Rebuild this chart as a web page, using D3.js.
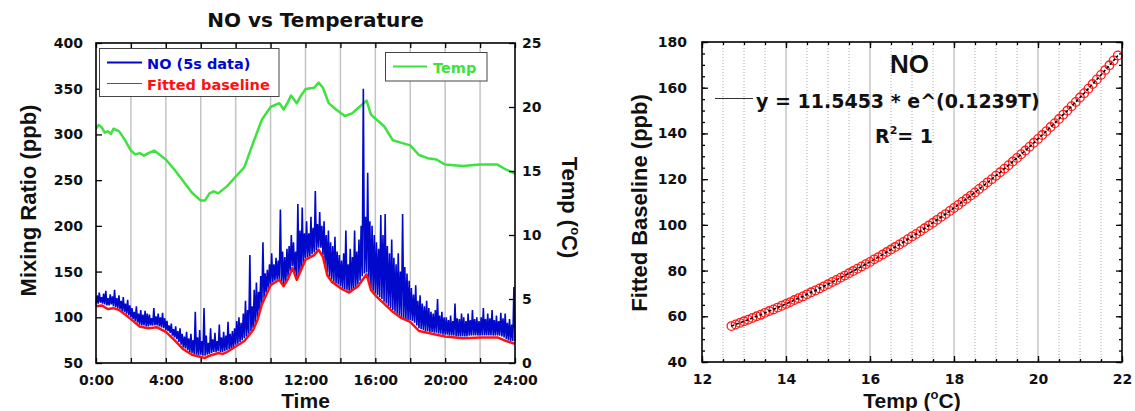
<!DOCTYPE html>
<html>
<head>
<meta charset="utf-8">
<script src="https://cdn.jsdelivr.net/npm/d3@7"></script>
<style>
  body { margin: 0; background: #fff; }
  .tick text { font-family: "DejaVu Sans", sans-serif; font-weight: bold; font-size: 14px; fill: #111; }
  .ttl { font-family: "Liberation Sans", Arial, sans-serif; font-weight: bold; fill: #111; }
  .wide { font-family: "DejaVu Sans", sans-serif; font-weight: bold; }
</style>
</head>
<body>
<div id="chart"></div>
<script>
// ---- left panel: time series (hours of day) ----
const tempTime = [0, 0.15, 0.33, 0.5, 0.67, 0.85, 1, 1.33, 1.67, 2,
  2.25, 2.5, 2.75, 3, 3.33, 3.67, 4, 4.5, 5, 5.5,
  6, 6.25, 6.5, 6.75, 7, 7.5, 8, 8.5, 9, 9.5,
  10, 10.5, 10.75, 11, 11.17, 11.5, 11.75, 12, 12.5, 12.75,
  13, 13.33, 13.75, 14.25, 14.67, 15, 15.5, 15.75, 16, 16.5,
  17, 17.5, 18, 18.5, 19, 19.5, 20, 21, 22, 23,
  23.5, 24];
const tempC = [18.3, 18.6, 18.4, 18.0, 18.1, 17.9, 18.3, 18.1, 17.4, 16.6,
  16.3, 16.4, 16.2, 16.4, 16.6, 16.25, 15.9, 15.1, 14.2, 13.3,
  12.7, 12.7, 13.25, 13.4, 13.25, 13.8, 14.55, 15.3, 17.2, 19.0,
  20.0, 20.3, 19.8, 20.4, 20.9, 20.3, 20.9, 21.4, 21.5, 21.9,
  21.5, 20.3, 19.8, 19.3, 19.5, 19.9, 20.5, 19.4, 19.1, 18.5,
  17.4, 17.2, 17.0, 16.25, 16.0, 15.9, 15.5, 15.4, 15.5, 15.5,
  15.1, 14.8];

const baseTime = [0, 0.33, 0.67, 1, 1.33, 1.67, 2, 2.5, 3, 3.5,
  4, 4.5, 5, 5.5, 6, 6.25, 6.5, 7, 7.25, 7.5,
  8, 8.5, 9, 9.25, 9.5, 10, 10.5, 10.75, 11, 11.25,
  11.5, 11.75, 12, 12.5, 12.75, 13, 13.25, 13.5, 14, 14.5,
  15, 15.5, 15.75, 16, 16.5, 17, 17.5, 18, 18.5, 19,
  19.5, 20, 21, 22, 23, 23.5, 24];
const baseline = [112, 113, 109, 110, 108, 103, 98, 90, 88, 89,
  84, 75, 65, 59, 56.5, 55.5, 58, 61, 60, 62,
  68, 74, 86, 97, 114, 135, 141, 134, 142, 154,
  141, 152, 163, 168, 174, 166, 146, 139, 132, 127,
  134, 147, 130, 124, 115, 106, 99, 95, 85, 83,
  81, 79, 77, 78, 78, 74, 71];

// NO 5 s data, one value every 3.75 min (16 per hour row)
const noStep = 1 / 16;
const noValues = [
  114, 124, 115, 127, 116, 122, 115, 126, 114, 129, 113, 121, 113, 125, 114, 123,
  112, 130, 111, 121, 110, 124, 109, 118, 107, 122, 106, 115, 104, 119, 102, 113,
  100, 110, 98, 106, 96, 112, 94, 104, 92, 108, 91, 103, 91, 107, 90, 104,
  90, 103, 91, 99, 91, 110, 91, 101, 91, 104, 90, 100, 89, 105, 88, 99,
  86, 96, 85, 91, 83, 93, 80, 87, 78, 90, 76, 85, 73, 88, 70, 82,
  67, 79, 66, 84, 64, 77, 62, 82, 61, 75, 60, 106, 59, 78, 58, 86,
  59, 74, 58, 110, 58, 80, 59, 72, 60, 88, 61, 76, 62, 83, 62, 74,
  63, 92, 62, 78, 62, 84, 63, 80, 64, 95, 65, 82, 66, 85, 67, 88,
  70, 96, 71, 100, 73, 94, 75, 104, 77, 118, 79, 108, 82, 168, 85, 112,
  88, 130, 93, 138, 99, 128, 107, 145, 115, 182, 121, 148, 127, 152, 131, 158,
  136, 170, 138, 158, 140, 165, 141, 162, 142, 218, 138, 172, 136, 166, 139, 175,
  144, 178, 150, 190, 156, 182, 148, 172, 143, 224, 146, 195, 151, 220, 157, 192,
  165, 205, 166, 192, 167, 210, 169, 198, 171, 238, 173, 202, 176, 215, 176, 200,
  168, 205, 158, 190, 149, 195, 144, 182, 141, 178, 139, 188, 137, 172, 136, 168,
  134, 162, 132, 170, 131, 195, 130, 158, 129, 175, 129, 166, 130, 195, 131, 172,
  136, 185, 140, 200, 145, 350, 148, 210, 149, 258, 140, 205, 132, 200, 129, 190,
  126, 182, 124, 175, 122, 212, 120, 190, 117, 213, 115, 178, 112, 170, 110, 185,
  108, 165, 106, 158, 104, 170, 102, 150, 100, 213, 99, 155, 98, 148, 97, 140,
  97, 132, 96, 125, 94, 135, 91, 118, 88, 124, 87, 115, 86, 112, 85, 118,
  85, 110, 84, 106, 84, 104, 83, 108, 83, 120, 82, 102, 82, 106, 81, 100,
  81, 100, 81, 97, 80, 102, 80, 96, 80, 115, 79, 99, 79, 98, 79, 104,
  79, 100, 79, 96, 79, 104, 80, 97, 80, 108, 80, 98, 80, 100, 80, 96,
  80, 100, 80, 110, 80, 98, 80, 104, 80, 99, 80, 108, 80, 97, 80, 102,
  80, 96, 80, 105, 79, 99, 78, 104, 76, 94, 75, 98, 74, 92, 74, 133,
  74];

const hourTicks = d3.range(0, 25, 2);
const ppbTicks = d3.range(50, 401, 50);
const tempTicks = d3.range(0, 26, 5);

// ---- right panel: fitted baseline vs temperature ----
const fitTemp = [12.7, 12.8, 12.9, 13.0, 13.1, 13.2, 13.3, 13.4, 13.5, 13.6,
  13.7, 13.8, 13.9, 14.0, 14.1, 14.2, 14.3, 14.4, 14.5, 14.6,
  14.7, 14.8, 14.9, 15.0, 15.1, 15.2, 15.3, 15.4, 15.5, 15.6,
  15.7, 15.8, 15.9, 16.0, 16.1, 16.2, 16.3, 16.4, 16.5, 16.6,
  16.7, 16.8, 16.9, 17.0, 17.1, 17.2, 17.3, 17.4, 17.5, 17.6,
  17.7, 17.8, 17.9, 18.0, 18.1, 18.2, 18.3, 18.4, 18.5, 18.6,
  18.7, 18.8, 18.9, 19.0, 19.1, 19.2, 19.3, 19.4, 19.5, 19.6,
  19.7, 19.8, 19.9, 20.0, 20.1, 20.2, 20.3, 20.4, 20.5, 20.6,
  20.7, 20.8, 20.9, 21.0, 21.1, 21.2, 21.3, 21.4, 21.5, 21.6,
  21.7, 21.8, 21.9];
const fitBaseline = [55.7, 56.4, 57.1, 57.8, 58.5, 59.3, 60.0, 60.7, 61.5, 62.3,
  63.0, 63.8, 64.6, 65.4, 66.2, 67.1, 67.9, 68.7, 69.6, 70.5,
  71.3, 72.2, 73.1, 74.0, 75.0, 75.9, 76.9, 77.8, 78.8, 79.8,
  80.8, 81.8, 82.8, 83.8, 84.9, 85.9, 87.0, 88.1, 89.2, 90.3,
  91.4, 92.5, 93.7, 94.9, 96.0, 97.2, 98.5, 99.7, 100.9, 102.2,
  103.5, 104.7, 106.1, 107.4, 108.7, 110.1, 111.4, 112.8, 114.2, 115.7,
  117.1, 118.6, 120.0, 121.5, 123.0, 124.6, 126.1, 127.7, 129.3, 130.9,
  132.5, 134.2, 135.9, 137.6, 139.3, 141.0, 142.8, 144.5, 146.3, 148.2,
  150.0, 151.9, 153.8, 155.7, 157.6, 159.6, 161.6, 163.6, 165.6, 167.7,
  169.8, 171.9, 174.1];

const fitTicksX = d3.range(12, 23, 2);
const fitMinorX = d3.range(12, 22.01, 0.5);
const fitTicksY = d3.range(40, 181, 20);
const fitMinorY = d3.range(40, 180.1, 5);

const svg = d3.select("#chart").append("svg")
  .attr("width", 1135)
  .attr("height", 411)
  .style("display", "block");

svg.append("rect").attr("width", 1135).attr("height", 411).attr("fill", "#fff");

function styleAxis(g) {
  g.select(".domain").remove();
  g.selectAll(".tick line").attr("stroke", "#000").attr("stroke-width", 1.3);
}

// ================= left panel =================
const L = { left: 96, right: 515, top: 43, bottom: 363 };

const x = d3.scaleLinear().domain([0, 24]).range([L.left, L.right]);
const yL = d3.scaleLinear().domain([50, 400]).range([L.bottom, L.top]);
const yR = d3.scaleLinear().domain([0, 25]).range([L.bottom, L.top]);

// vertical grid
svg.append("g")
  .selectAll("line")
  .data(hourTicks.slice(1, -1))
  .enter().append("line")
  .attr("x1", d => x(d)).attr("x2", d => x(d))
  .attr("y1", L.top).attr("y2", L.bottom)
  .attr("stroke", "#c4c4c4")
  .attr("stroke-width", 1.5);

// temperature
svg.append("path")
  .datum(tempTime.map((t, i) => ({ t, v: tempC[i] })))
  .attr("fill", "none")
  .attr("stroke", "#3ee23e")
  .attr("stroke-width", 2.5)
  .attr("stroke-linejoin", "round")
  .attr("d", d3.line().x(d => x(d.t)).y(d => yR(d.v)));

// NO 5 s data
svg.append("path")
  .datum(noValues.map((v, i) => ({ t: i * noStep, v })))
  .attr("fill", "none")
  .attr("stroke", "#0008cc")
  .attr("stroke-width", 1.6)
  .attr("d", d3.line().x(d => x(d.t)).y(d => yL(d.v)));

// fitted baseline
svg.append("path")
  .datum(baseTime.map((t, i) => ({ t, v: baseline[i] })))
  .attr("fill", "none")
  .attr("stroke", "#ff1010")
  .attr("stroke-width", 2.5)
  .attr("stroke-linejoin", "round")
  .attr("d", d3.line().x(d => x(d.t)).y(d => yL(d.v)));

// axes (inward ticks)
svg.append("g")
  .attr("transform", `translate(${L.left},0)`)
  .call(d3.axisLeft(yL).tickValues(ppbTicks).tickSize(-6).tickPadding(13))
  .call(styleAxis);

svg.append("g")
  .attr("transform", `translate(${L.right},0)`)
  .call(d3.axisRight(yR).tickValues(tempTicks).tickSize(-6).tickPadding(7))
  .call(styleAxis);

svg.append("g")
  .attr("transform", `translate(0,${L.bottom})`)
  .call(d3.axisBottom(x).tickValues(hourTicks).tickSize(-5).tickPadding(12)
    .tickFormat(d => d % 4 === 0 ? `${d}:00` : ""))
  .call(styleAxis);

svg.append("g")
  .attr("transform", `translate(0,${L.top})`)
  .call(d3.axisTop(x).tickValues(hourTicks).tickSize(-5).tickFormat(""))
  .call(styleAxis);

svg.append("rect")
  .attr("x", L.left).attr("y", L.top)
  .attr("width", L.right - L.left).attr("height", L.bottom - L.top)
  .attr("fill", "none").attr("stroke", "#000").attr("stroke-width", 1.6);

// legends
const leg1 = svg.append("g");
leg1.append("rect")
  .attr("x", 99.5).attr("y", 48.5).attr("width", 179.5).attr("height", 48)
  .attr("fill", "#fff").attr("stroke", "#444").attr("stroke-width", 1);
leg1.append("line").attr("x1", 107).attr("x2", 142).attr("y1", 62.5).attr("y2", 62.5)
  .attr("stroke", "#0008cc").attr("stroke-width", 2.2);
leg1.append("line").attr("x1", 107).attr("x2", 142).attr("y1", 83.5).attr("y2", 83.5)
  .attr("stroke", "#ff1010").attr("stroke-width", 1.2);
leg1.append("text").attr("class", "wide").attr("x", 147).attr("y", 69)
  .attr("font-size", 14.5).attr("fill", "#0008cc").text("NO (5s data)");
leg1.append("text").attr("class", "wide").attr("x", 147).attr("y", 90)
  .attr("font-size", 14.5).attr("fill", "#ff1010").text("Fitted baseline");

const leg2 = svg.append("g");
leg2.append("rect")
  .attr("x", 385.5).attr("y", 52.5).attr("width", 101.5).attr("height", 28.5)
  .attr("fill", "#fff").attr("stroke", "#444").attr("stroke-width", 1);
leg2.append("line").attr("x1", 393).attr("x2", 427).attr("y1", 66.5).attr("y2", 66.5)
  .attr("stroke", "#3ee23e").attr("stroke-width", 2);
leg2.append("text").attr("class", "wide").attr("x", 433).attr("y", 72.5)
  .attr("font-size", 14.5).attr("fill", "#3ee23e").text("Temp");

// titles
svg.append("text").attr("class", "wide")
  .attr("x", 315.5).attr("y", 27).attr("text-anchor", "middle")
  .attr("font-size", 20).attr("fill", "#111").text("NO vs Temperature");

svg.append("text").attr("class", "ttl")
  .attr("x", 305.5).attr("y", 408).attr("text-anchor", "middle")
  .attr("font-size", 21).text("Time");

svg.append("text").attr("class", "ttl")
  .attr("transform", "translate(36,200.5) rotate(-90)")
  .attr("text-anchor", "middle").attr("font-size", 22)
  .text("Mixing Ratio (ppb)");

const tLab = svg.append("text").attr("class", "ttl")
  .attr("transform", "translate(562,207.5) rotate(90)")
  .attr("text-anchor", "middle").attr("font-size", 22);
tLab.append("tspan").text("Temp (");
tLab.append("tspan").attr("font-size", 13).attr("dy", -9).text("o");
tLab.append("tspan").attr("dy", 9).text("C)");

// ================= right panel =================
const R = { left: 702, right: 1122, top: 42, bottom: 362 };

const xT = d3.scaleLinear().domain([12, 22]).range([R.left, R.right]);
const yB = d3.scaleLinear().domain([40, 180]).range([R.bottom, R.top]);

const gridMinor = fitMinorX.filter(d => d > 12 && d < 22 && d % 2 !== 0);
const gridMajor = fitTicksX.filter(d => d > 12 && d < 22);

svg.append("g").selectAll("line")
  .data(gridMinor).enter().append("line")
  .attr("x1", d => xT(d)).attr("x2", d => xT(d))
  .attr("y1", R.top).attr("y2", R.bottom)
  .attr("stroke", "#a8a8a8").attr("stroke-width", 1)
  .attr("stroke-dasharray", "1,2");

svg.append("g").selectAll("line")
  .data(gridMajor).enter().append("line")
  .attr("x1", d => xT(d)).attr("x2", d => xT(d))
  .attr("y1", R.top).attr("y2", R.bottom)
  .attr("stroke", "#c4c4c4").attr("stroke-width", 1.4);

const fitData = fitTemp.map((t, i) => ({ t, v: fitBaseline[i] }));

svg.append("g").selectAll("circle")
  .data(fitData).enter().append("circle")
  .attr("cx", d => xT(d.t)).attr("cy", d => yB(d.v))
  .attr("r", 4.3)
  .attr("fill", "none")
  .attr("stroke", "#ff1a1a")
  .attr("stroke-width", 1.3);

svg.append("path")
  .datum(fitData)
  .attr("fill", "none")
  .attr("stroke", "#000")
  .attr("stroke-width", 1.6)
  .attr("stroke-dasharray", "3,2")
  .attr("d", d3.line().x(d => xT(d.t)).y(d => yB(d.v)));

// minor ticks
svg.append("g").attr("transform", `translate(${R.left},0)`)
  .call(d3.axisLeft(yB).tickValues(fitMinorY).tickSize(-3).tickFormat(""))
  .call(styleAxis);
svg.append("g").attr("transform", `translate(${R.right},0)`)
  .call(d3.axisRight(yB).tickValues(fitMinorY).tickSize(-3).tickFormat(""))
  .call(styleAxis);
svg.append("g").attr("transform", `translate(0,${R.bottom})`)
  .call(d3.axisBottom(xT).tickValues(fitMinorX).tickSize(-3).tickFormat(""))
  .call(styleAxis);
svg.append("g").attr("transform", `translate(0,${R.top})`)
  .call(d3.axisTop(xT).tickValues(fitMinorX).tickSize(-3).tickFormat(""))
  .call(styleAxis);

// major ticks
svg.append("g").attr("transform", `translate(${R.left},0)`)
  .call(d3.axisLeft(yB).tickValues(fitTicksY).tickSize(-6).tickPadding(15))
  .call(styleAxis);
svg.append("g").attr("transform", `translate(${R.right},0)`)
  .call(d3.axisRight(yB).tickValues(fitTicksY).tickSize(-6).tickFormat(""))
  .call(styleAxis);
svg.append("g").attr("transform", `translate(0,${R.bottom})`)
  .call(d3.axisBottom(xT).tickValues(fitTicksX).tickSize(-6).tickPadding(12))
  .call(styleAxis);
svg.append("g").attr("transform", `translate(0,${R.top})`)
  .call(d3.axisTop(xT).tickValues(fitTicksX).tickSize(-6).tickFormat(""))
  .call(styleAxis);

svg.append("rect")
  .attr("x", R.left).attr("y", R.top)
  .attr("width", R.right - R.left).attr("height", R.bottom - R.top)
  .attr("fill", "none").attr("stroke", "#000").attr("stroke-width", 1.6);

// annotation
svg.append("text").attr("class", "ttl")
  .attr("x", 909.5).attr("y", 73).attr("text-anchor", "middle")
  .attr("font-size", 26).text("NO");

svg.append("line")
  .attr("x1", 715).attr("x2", 753).attr("y1", 98.5).attr("y2", 98.5)
  .attr("stroke", "#333").attr("stroke-width", 1);

svg.append("text").attr("class", "wide")
  .attr("x", 756).attr("y", 108).attr("font-size", 19).attr("fill", "#111")
  .text("y = 11.5453 * e^(0.1239T)");

const r2 = svg.append("text").attr("class", "wide")
  .attr("x", 875).attr("y", 143).attr("font-size", 19).attr("fill", "#111");
r2.append("tspan").text("R");
r2.append("tspan").attr("font-size", 11).attr("dy", -9).text("2");
r2.append("tspan").attr("dy", 9).text("= 1");

svg.append("text").attr("class", "ttl")
  .attr("transform", "translate(647,203) rotate(-90)")
  .attr("text-anchor", "middle").attr("font-size", 22)
  .text("Fitted Baseline (ppb)");

const xLab = svg.append("text").attr("class", "ttl")
  .attr("x", 912).attr("y", 408).attr("text-anchor", "middle")
  .attr("font-size", 21);
xLab.append("tspan").text("Temp (");
xLab.append("tspan").attr("font-size", 13).attr("dy", -9).text("o");
xLab.append("tspan").attr("dy", 9).text("C)");
</script>
</body>
</html>
